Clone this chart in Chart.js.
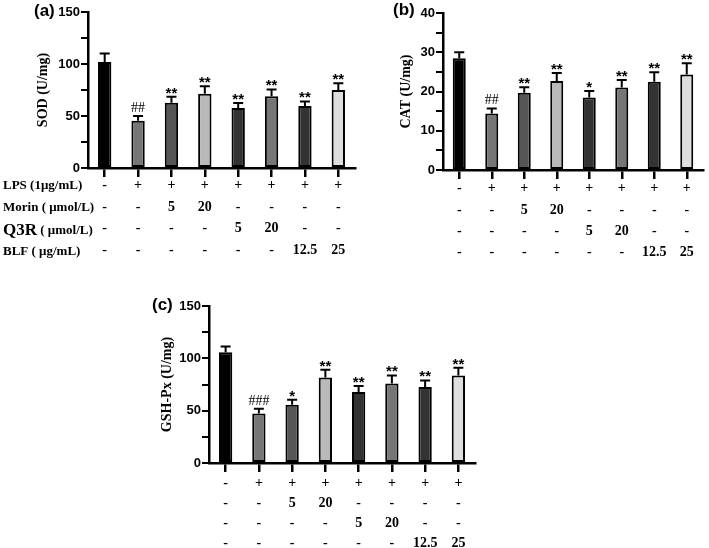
<!DOCTYPE html>
<html>
<head>
<meta charset="utf-8">
<script src="https://cdn.jsdelivr.net/npm/chart.js@4/dist/chart.umd.min.js"></script>
<style>
  html, body { margin: 0; padding: 0; background: #fff; }
  body { width: 709px; height: 548px; position: relative; overflow: hidden; }
  canvas { position: absolute; }
</style>
</head>
<body>
<canvas id="chartSod" width="360" height="270" style="left:0;top:0"></canvas>
<canvas id="chartCat" width="349" height="270" style="left:360px;top:0"></canvas>
<canvas id="chartGsh" width="480" height="268" style="left:0;top:280px"></canvas>
<script>
// ── grupos de tratamiento ─────────────────────────────────────────────────
const rowNames = ['LPS (1μg/mL)', 'Morin ( μmol/L)', 'Q3R ( μmol/L)', 'BLF ( μg/mL)'];
const lpsRow   = ['-', '+', '+', '+', '+', '+', '+', '+'];
const morinRow = ['-', '-', '5', '20', '-', '-', '-', '-'];
const q3rRow   = ['-', '-', '-', '-', '5', '20', '-', '-'];
const blfRow   = ['-', '-', '-', '-', '-', '-', '12.5', '25'];

// ── valores ───────────────────────────────────────────────────────────────
const sodMean = [102, 45.5, 62.8, 71.4, 57.7, 69, 59.6, 75];
const sodErr  = [8, 4.5, 5.7, 7.1, 4.8, 6.6, 4.4, 6.4];
const sodSig  = ['', '##', '**', '**', '**', '**', '**', '**'];

const catMean = [28.5, 14.4, 19.7, 22.7, 18.5, 21, 22.5, 24.3];
const catErr  = [1.5, 1.3, 1.4, 2.0, 1.6, 1.9, 2.4, 2.9];
const catSig  = ['', '##', '**', '**', '*', '**', '**', '**'];

const gshMean = [105.7, 47.4, 55.7, 81.8, 67.8, 76, 72.6, 83.7];
const gshErr  = [5.7, 4.5, 4.8, 7.3, 5.8, 7.7, 6.3, 7.3];
const gshSig  = ['', '###', '*', '**', '**', '**', '**', '**'];

const BAR_COLORS = ['#000000', '#767676', '#555555', '#b9b9b9', '#333333', '#767676', '#333333', '#dedede'];
const SANS  = "'Liberation Sans', Arial, sans-serif";
const SERIF = "'Liberation Serif', 'Times New Roman', serif";

const labels = lpsRow.map((v, i) => [v, morinRow[i], q3rRow[i], blfRow[i]]);

// barras de error + marcas de significancia
const errorBars = {
  id: 'errorBars',
  afterDatasetsDraw(chart, args, opts) {
    const { ctx } = chart;
    const y = chart.scales.y;
    const meta = chart.getDatasetMeta(0);
    ctx.save();
    ctx.strokeStyle = '#000';
    ctx.lineWidth = 2;
    meta.data.forEach((bar, i) => {
      const top = y.getPixelForValue(opts.mean[i] + opts.err[i]);
      ctx.beginPath();
      ctx.moveTo(bar.x, bar.y);
      ctx.lineTo(bar.x, top);
      ctx.moveTo(bar.x - 5, top);
      ctx.lineTo(bar.x + 5, top);
      ctx.stroke();
      const s = opts.sig[i];
      if (!s) return;
      ctx.fillStyle = '#000';
      ctx.textAlign = 'center';
      ctx.textBaseline = 'alphabetic';
      if (s.includes('#')) {
        ctx.font = '14px ' + SERIF;
        ctx.fillText(s, bar.x, top - 4);
      } else {
        ctx.font = 'bold 15px ' + SANS;
        ctx.fillText(s, bar.x, top + 1);
      }
    });
    ctx.restore();
  }
};

// etiqueta del panel y nombres de filas
const panelText = {
  id: 'panelText',
  afterDraw(chart, args, opts) {
    const { ctx } = chart;
    ctx.save();
    ctx.fillStyle = '#000';
    ctx.font = 'bold 17px ' + SANS;
    ctx.textAlign = 'left';
    ctx.textBaseline = 'middle';
    ctx.fillText(opts.label, opts.lx, opts.ly);
    if (opts.rows) {
      const x = chart.scales.x;
      const lh = opts.lh;
      const y0 = x.top + 9 + opts.pad;
      rowNames.forEach((name, i) => {
        const cy = y0 + lh * (i + 0.5) + (i >= 2 ? 1.5 : 0);
        if (name.startsWith('Q3R')) {
          ctx.font = 'bold 17px ' + SERIF;
          ctx.fillText('Q3R', 3, cy);
          const w = ctx.measureText('Q3R').width;
          ctx.font = 'bold 13px ' + SERIF;
          ctx.fillText(name.slice(3), 3 + w, cy);
        } else {
          ctx.font = 'bold 13px ' + SERIF;
          ctx.fillText(name, 3, cy);
        }
      });
    }
    ctx.restore();
  }
};

function buildChart(id, cfg) {
  return new Chart(document.getElementById(id), {
    type: 'bar',
    data: {
      labels,
      datasets: [{
        data: cfg.mean,
        backgroundColor: BAR_COLORS,
        borderColor: '#000',
        borderWidth: 2,
        borderSkipped: false,
        barPercentage: 0.4,
        categoryPercentage: 1
      }]
    },
    options: {
      responsive: false,
      devicePixelRatio: 1,
      animation: false,
      layout: { padding: { left: 0, right: cfg.padRight, top: cfg.top, bottom: 0 } },
      plugins: {
        legend: { display: false },
        tooltip: { enabled: false },
        errorBars: { mean: cfg.mean, err: cfg.err, sig: cfg.sig },
        panelText: cfg.panel
      },
      scales: {
        x: {
          offset: true,
          border: { color: '#000', width: 2.5 },
          grid: { offset: false, drawOnChartArea: false, drawTicks: true, tickLength: 9, color: '#000', lineWidth: 2.5 },
          ticks: { color: '#000', padding: cfg.panel.pad, maxRotation: 0, autoSkip: false,
                   font: { family: SERIF, size: 14, weight: 'bold', lineHeight: cfg.panel.lh + 'px' } },
          afterFit: s => { s.height = cfg.xHeight; }
        },
        y: {
          min: 0, max: cfg.max,
          border: { color: '#000', width: 2.5 },
          grid: { drawOnChartArea: false, drawTicks: true, tickLength: 7, color: '#000', lineWidth: 2 },
          ticks: { stepSize: cfg.step, color: '#000', padding: 1,
                   font: { family: SANS, size: 13, weight: 'bold' },
                   callback: v => (v % (cfg.step * 2) === 0 ? v : '') },
          title: { display: true, text: cfg.title, color: '#000', padding: { top: cfg.titlePad, bottom: 0 },
                   font: { family: SERIF, size: 14, weight: 'bold' } },
          afterFit: s => { s.width = cfg.yWidth; }
        }
      }
    },
    plugins: [errorBars, panelText]
  });
}

buildChart('chartSod', {
  mean: sodMean, err: sodErr, sig: sodSig, max: 150, step: 25, title: 'SOD (U/mg)',
  yWidth: 88, xHeight: 102, top: 12, padRight: 5, titlePad: 35,
  panel: { label: '(a)', lx: 34, ly: 11, rows: true, lh: 21.5, pad: -2 }
});

buildChart('chartCat', {
  mean: catMean, err: catErr, sig: catSig, max: 40, step: 5, title: 'CAT (U/mg)',
  yWidth: 83, xHeight: 100, top: 13, padRight: 6, titlePad: 38,
  panel: { label: '(b)', lx: 33, ly: 10, rows: false, lh: 21.3, pad: -1 }
});

buildChart('chartGsh', {
  mean: gshMean, err: gshErr, sig: gshSig, max: 150, step: 25, title: 'GSH-Px (U/mg)',
  yWidth: 209, xHeight: 85, top: 26, padRight: 5, titlePad: 159,
  panel: { label: '(c)', lx: 152, ly: 25, rows: false, lh: 20, pad: 1 }
});
</script>
</body>
</html>
